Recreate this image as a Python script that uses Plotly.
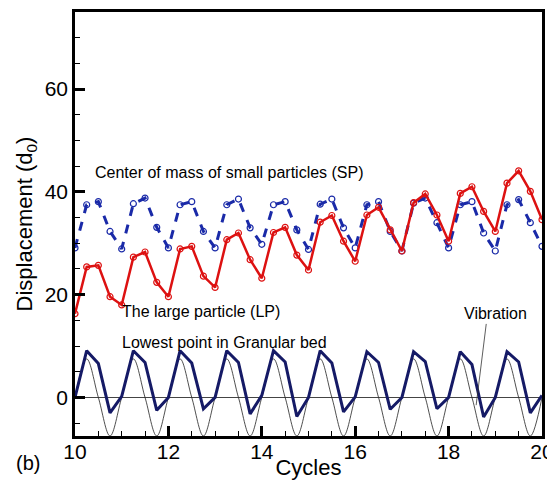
import plotly.graph_objects as go

# sample times (cycles)
cycles = [10.0, 10.25, 10.5, 10.75, 11.0, 11.25, 11.5, 11.75, 12.0, 12.25, 12.5, 12.75,
          13.0, 13.25, 13.5, 13.75, 14.0, 14.25, 14.5, 14.75, 15.0, 15.25, 15.5, 15.75,
          16.0, 16.25, 16.5, 16.75, 17.0, 17.25, 17.5, 17.75, 18.0, 18.25, 18.5, 18.75,
          19.0, 19.25, 19.5, 19.75, 20.0]

# center of mass of small particles (SP)
sp_disp = [29.1, 37.5, 38.1, 32.3, 28.9, 37.7, 38.8, 33.1, 29.1, 37.5, 38.1, 32.3,
           29.1, 37.5, 38.6, 33.0, 29.8, 37.5, 38.1, 32.6, 28.8, 37.6, 38.6, 33.0,
           29.1, 37.5, 38.1, 32.3, 28.5, 37.8, 38.8, 34.0, 29.1, 37.5, 38.1, 32.0,
           28.5, 37.5, 38.5, 34.0, 29.4]

# the large particle (LP)
lp_disp = [16.3, 25.4, 25.7, 19.6, 18.0, 27.3, 28.3, 22.4, 19.6, 28.9, 29.4, 23.6,
           21.4, 30.7, 32.0, 26.8, 23.2, 32.1, 33.1, 27.7, 24.8, 34.1, 35.4, 30.4,
           26.5, 35.5, 37.0, 32.6, 28.5, 37.9, 39.6, 35.5, 30.4, 39.7, 41.0, 36.2,
           32.3, 41.7, 44.1, 40.1, 34.6]

# lowest point in granular bed
bed_disp = [0.0, 9.1, 6.6, -3.0, 0.2, 9.1, 6.8, -2.5, 0.0, 9.1, 6.7, -2.2,
            0.0, 9.1, 6.8, -3.2, 0.4, 9.1, 6.9, -3.7, 0.0, 9.1, 6.7, -2.8,
            0.1, 8.9, 6.8, -2.3, 0.0, 8.9, 7.0, -2.2, 0.0, 8.9, 6.4, -3.8,
            0.0, 8.9, 6.9, -3.0, 0.4]

# vibration of the container (quarter-cycle samples, drawn as spline)
vib_disp = [0.0, 7.5, 0.0, -7.5, 0.0, 7.5, 0.0, -7.5, 0.0, 7.5, 0.0, -7.5,
            0.0, 7.5, 0.0, -7.5, 0.0, 7.5, 0.0, -7.5, 0.0, 7.5, 0.0, -7.5,
            0.0, 7.5, 0.0, -7.5, 0.0, 7.5, 0.0, -7.5, 0.0, 7.5, 0.0, -7.5,
            0.0, 7.5, 0.0, -7.5, 0.0]

FONT = "Liberation Sans, Arial, sans-serif"
BLUE = "#1a2aa8"
RED = "#dd1111"
NAVY = "#151a66"

fig = go.Figure()

fig.add_trace(go.Scatter(x=cycles, y=vib_disp, mode="lines", line_shape="spline",
                         line=dict(color="#222222", width=0.8)))
fig.add_trace(go.Scatter(x=cycles, y=bed_disp, mode="lines",
                         line=dict(color=NAVY, width=3)))
fig.add_trace(go.Scatter(x=cycles, y=sp_disp, mode="lines+markers",
                         line=dict(color=BLUE, width=3, dash="9px,9px"),
                         marker=dict(symbol="circle-open", size=6, color=BLUE,
                                     line=dict(width=1.2, color=BLUE))))
fig.add_trace(go.Scatter(x=cycles, y=lp_disp, mode="lines+markers",
                         line=dict(color=RED, width=2.5),
                         marker=dict(symbol="circle-open", size=6, color=RED,
                                     line=dict(width=1.2, color=RED))))

labels = [
    (10.39, 43.7, "Center of mass of small particles (SP)"),
    (10.96, 16.8, "The large particle (LP)"),
    (10.96, 10.6, "Lowest point in Granular bed"),
    (18.29, 16.3, "Vibration"),
]
for x, y, txt in labels:
    fig.add_annotation(x=x, y=y, text=txt, showarrow=False, xanchor="left",
                       yanchor="middle", font=dict(size=16, color="black", family=FONT))

# leader line for vibration
fig.add_annotation(x=18.59, y=-1.5, ax=18.81, ay=14.6, axref="x", ayref="y",
                   text="", showarrow=True, arrowhead=0, arrowwidth=0.8,
                   arrowcolor="#333333")

fig.add_annotation(x=-0.10, y=-0.064, xref="paper", yref="paper", text="(b)",
                   showarrow=False, xanchor="center", yanchor="middle",
                   font=dict(size=20, color="black", family=FONT))

axis_common = dict(
    showline=True, linecolor="black", linewidth=2.5, mirror=True,
    showgrid=False, ticks="inside", tickcolor="black", tickwidth=2.5, ticklen=10,
    tickfont=dict(size=21, color="black", family=FONT), automargin=False,
)

fig.update_xaxes(range=[10, 20], dtick=2, zeroline=False, ticklabelstandoff=-5,
                 minor=dict(ticks="inside", dtick=0.5, ticklen=5, tickwidth=1, tickcolor="black"),
                 title=dict(text="Cycles", font=dict(size=22, color="black", family=FONT),
                            standoff=7),
                 **axis_common)
fig.update_yaxes(range=[-7.5, 75], dtick=20, tick0=0, ticklabelstandoff=0,
                 zeroline=True, zerolinecolor="#444444", zerolinewidth=1,
                 minor=dict(ticks="inside", dtick=5, ticklen=5, tickwidth=1, tickcolor="black"),
                 title=dict(text="Displacement (d<sub>0</sub>)",
                            font=dict(size=22, color="black", family=FONT), standoff=6),
                 **axis_common)

# the page body adds an 8px offset, so the figure is sized to fit the window
fig.update_layout(
    width=547, height=472,
    margin=dict(l=67, r=13, t=4, b=44),
    paper_bgcolor="white", plot_bgcolor="white",
    showlegend=False,
    font=dict(family=FONT, color="black"),
)

fig.write_html("out.html")
